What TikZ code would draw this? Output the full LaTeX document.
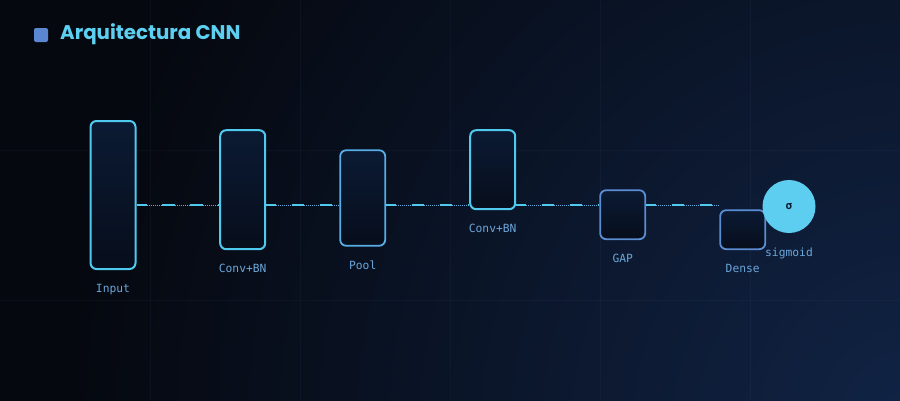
\documentclass[tikz,border=0pt]{standalone}
\usepackage{fontspec}
\newfontfamily\titlefont{Poppins}
\newfontfamily\monofont{DejaVu Sans Mono}

\definecolor{bgdark}{HTML}{05080F}
\definecolor{bgglow}{HTML}{112446}
\definecolor{gridcol}{HTML}{8FB8FF}
\definecolor{cyanedge}{HTML}{4FC9EE}
\definecolor{bluedge}{HTML}{5B8DD3}
\definecolor{pooledge}{HTML}{57AEE6}
\definecolor{boxtop}{HTML}{0B1A33}
\definecolor{boxbot}{HTML}{070E1C}
\definecolor{labelcol}{HTML}{6AA6DA}
\definecolor{titlecol}{HTML}{5DD0F2}
\definecolor{iconcol}{HTML}{5B87D2}
\definecolor{sigcol}{HTML}{5DCDF0}
\definecolor{sigtext}{HTML}{0B1A30}
\definecolor{thinlink}{HTML}{5FA9D8}

\tikzset{
  layer/.style = {shape=rectangle, rounded corners=6pt,
                  draw=cyanedge, line width=2pt, inner sep=0pt,
                  top color=boxtop, bottom color=boxbot,
                  minimum width=45pt},
  conv/.style  = {layer},
  pool/.style  = {layer, draw=pooledge, line width=1.8pt},
  head/.style  = {layer, draw=bluedge, line width=1.8pt},
  sigm/.style  = {circle, fill=sigcol, inner sep=0pt, minimum size=53pt,
                  text=sigtext, font=\monofont\bfseries\fontsize{11}{13}\selectfont},
  lbl/.style   = {text=labelcol, inner sep=0pt, text height=8pt, text depth=2pt,
                  font=\monofont\fontsize{11.3}{13}\selectfont},
  link/.style  = {draw=thinlink, line width=0.8pt, dash pattern=on 1pt off 1pt,
                  postaction={draw=cyanedge, line width=2.5pt,
                              dash pattern=on 12.5pt off 15.5pt, dash phase=2.5pt}},
  gridline/.style = {draw=gridcol, draw opacity=0.04, line width=1pt}
}

\begin{document}
\begin{tikzpicture}
[
    x=1pt, y=-1pt,
    every label/.style = {lbl, label distance=14.5pt}
  ]
\useasboundingbox (0,0) rectangle (900,400);
\begin{scope}
  \clip (-5,-5) rectangle (905,405);
  \fill[bgdark] (-5,-5) rectangle (905,405);
  \shade[inner color=bgglow, outer color=bgdark] (920,430) circle[radius=850pt];
\end{scope}
\foreach \gx in {150,300,...,750}
  \draw[gridline] (\gx,0) -- (\gx,400);
\foreach \gy in {150,300}
  \draw[gridline] (0,\gy) -- (900,\gy);

\node[fill=iconcol, rounded corners=2pt, minimum size=14pt, inner sep=0pt] (icon) at (41,35) {};
\node[anchor=west, inner sep=0pt, text=titlecol,
      font=\titlefont\bfseries\fontsize{19.8}{23}\selectfont] (title) at (60,34) {Arquitectura CNN};

\coordinate (axis) at (0,205);

\node[conv, minimum height=148pt, label=below:Input]   (input) at (113,195) {};
\node[conv, minimum height=119pt, label=below:Conv+BN] (conv1) at (242.7,189.7) {};
\node[pool, minimum height=95.5pt, label=below:Pool]   (pool)  at (362.7,198) {};
\node[conv, minimum height=79pt, label=below:Conv+BN]  (conv2) at (492.7,169.7) {};
\node[head, minimum height=49pt, label=below:GAP]      (gap)   at (622.7,214.7) {};
\node[head, minimum height=39pt, label=below:Dense]    (dense) at (742.7,229.7) {};
\node[sigm, label={[label distance=15pt]below:sigmoid}] (sig) at (789,206.5) {σ};

\draw[link] (input.east |- axis) -- (conv1.west |- axis);
\draw[link] (conv1.east |- axis) -- (pool.west |- axis);
\draw[link] (pool.east |- axis)  -- (conv2.west |- axis);
\draw[link] (conv2.east |- axis) -- (gap.west |- axis);
\draw[link] (gap.east |- axis)   -- (dense.west |- axis);
\end{tikzpicture}
\end{document}
